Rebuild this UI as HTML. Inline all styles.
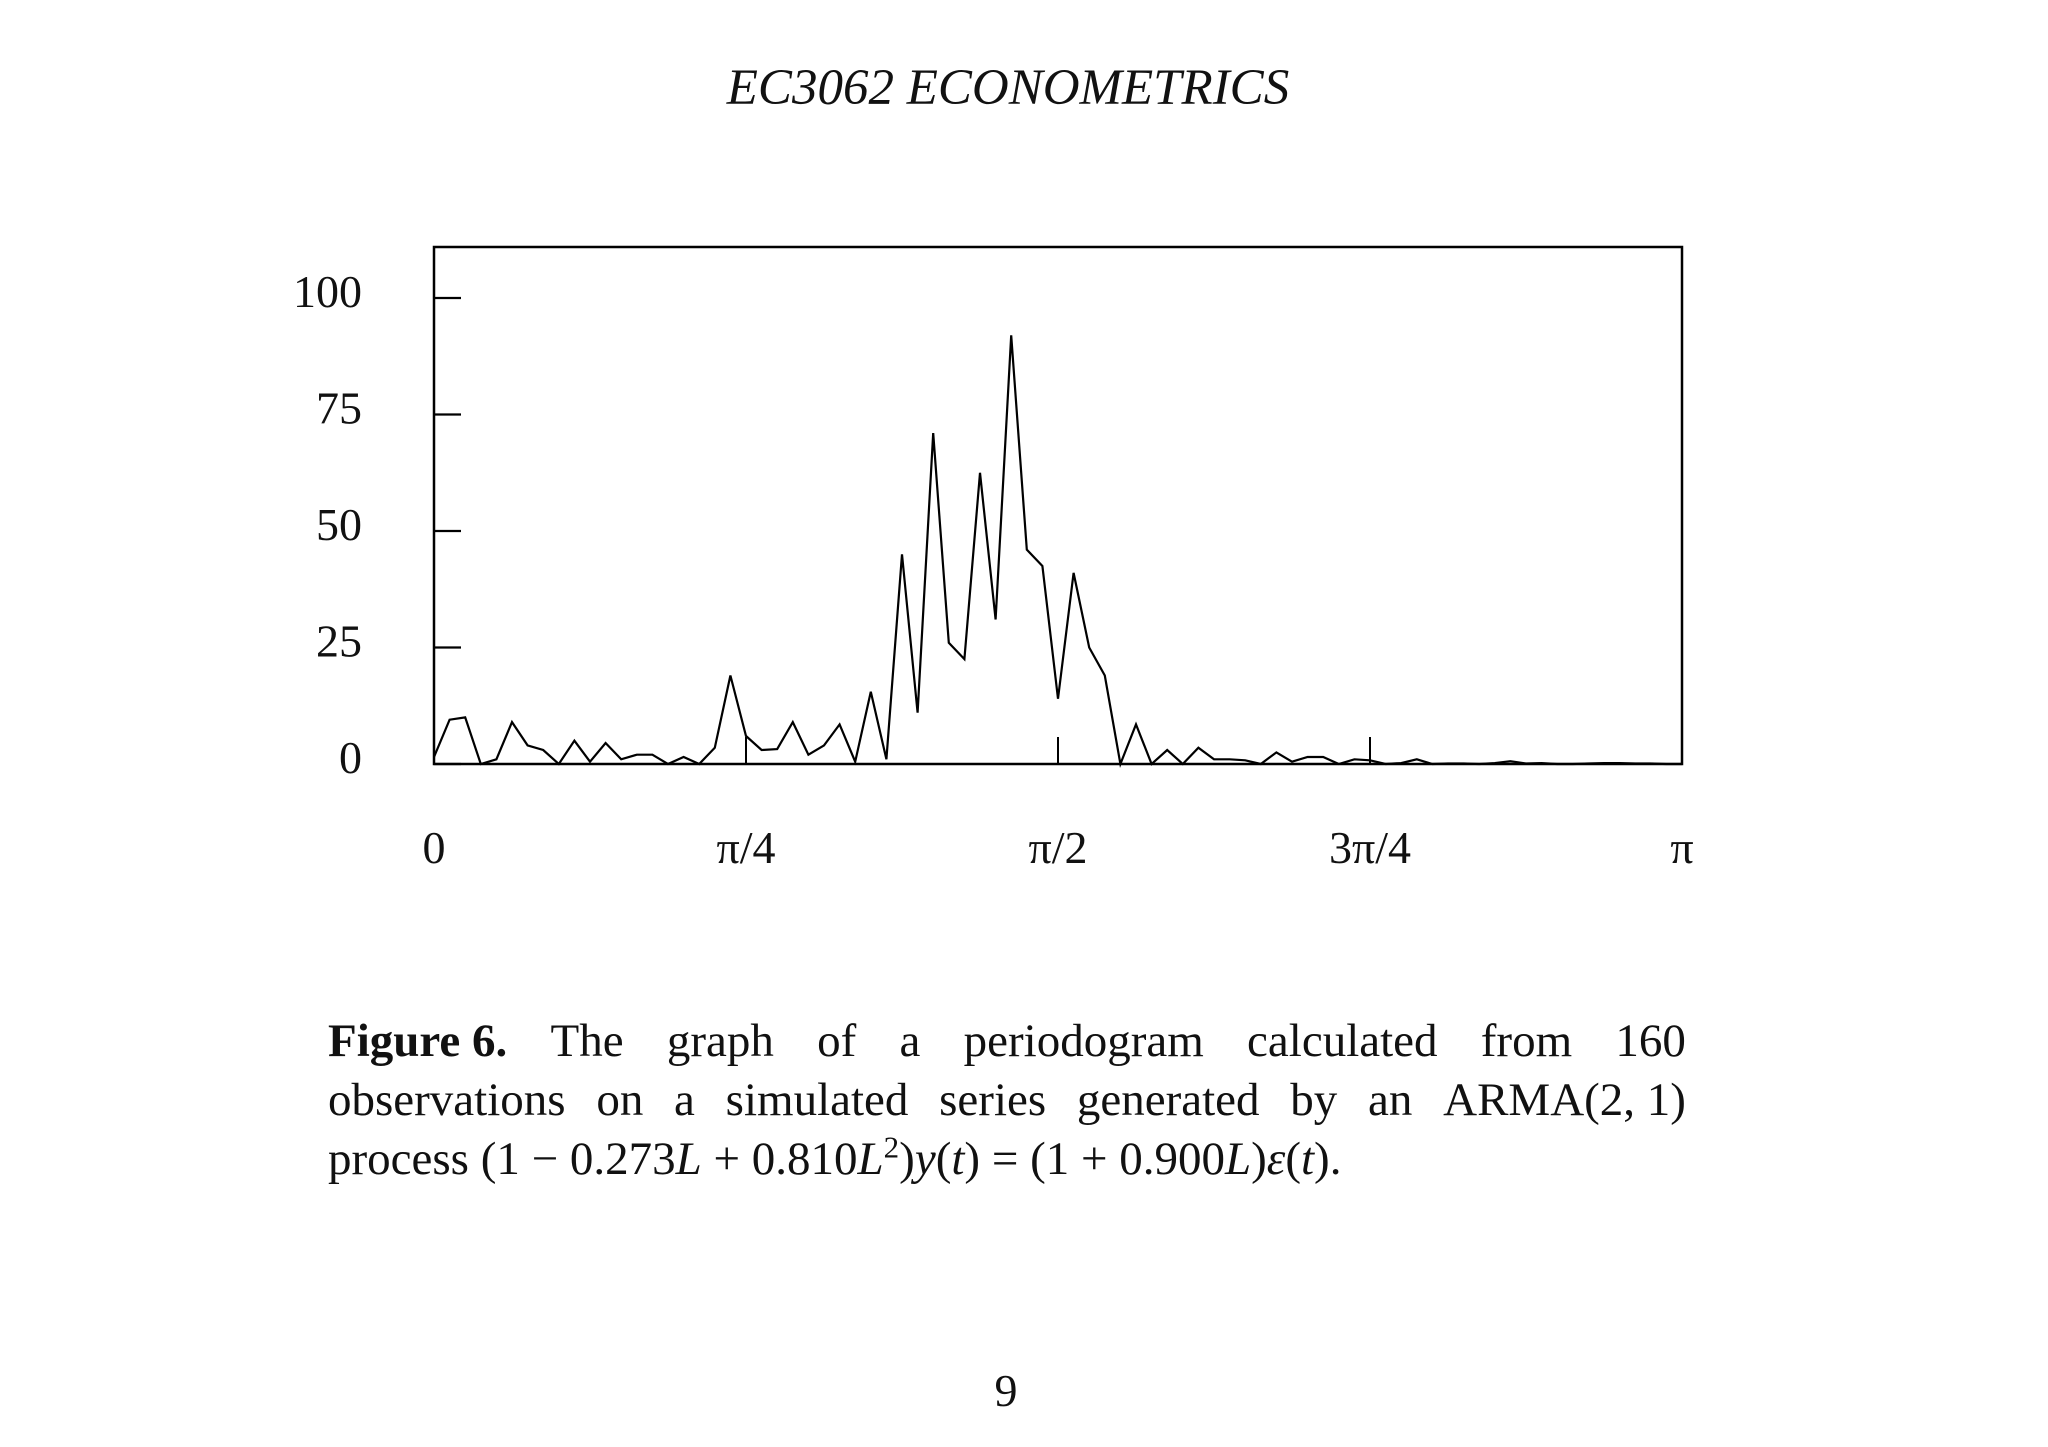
<!DOCTYPE html>
<html><head><meta charset="utf-8"><style>
html,body{margin:0;padding:0;background:#fff;}
svg{display:block;}
.cap{position:absolute;left:328px;top:1012px;width:1358px;font-family:"Liberation Serif",serif;font-size:47px;line-height:59px;color:#111;}
.cap div{text-align:justify;text-align-last:justify;white-space:nowrap;}
.cap div.last{text-align-last:left;}
</style></head><body>
<div style="position:relative;width:2048px;height:1447px;overflow:hidden">
<svg id="chart" width="2048" height="1447">
<text x="1008" y="104" text-anchor="middle" font-family="Liberation Serif,serif" font-style="italic" font-size="51" fill="#111">EC3062 ECONOMETRICS</text>
<rect x="434" y="247" width="1248" height="517" fill="none" stroke="#000" stroke-width="2.5"/>
<g id="axes"></g>
<path id="series" fill="none" stroke="#000" stroke-width="2.2" stroke-linejoin="miter"/>
<text x="1006" y="1406" text-anchor="middle" font-family="Liberation Serif,serif" font-size="46" fill="#111">9</text>
</svg>
<div class="cap">
<div style="display:flex;justify-content:space-between"><b>Figure 6.</b><span>The</span><span>graph</span><span>of</span><span>a</span><span>periodogram</span><span>calculated</span><span>from</span><span>160</span></div>
<div style="display:flex;justify-content:space-between"><span>observations</span><span>on</span><span>a</span><span>simulated</span><span>series</span><span>generated</span><span>by</span><span>an</span><span>ARMA(2, 1)</span></div>
<div class="last">process (1 − 0.273<i>L</i> + 0.810<i>L</i><sup style="font-size:31px;line-height:0">2</sup>)<i>y</i>(<i>t</i>) = (1 + 0.900<i>L</i>)<i>ε</i>(<i>t</i>).</div>
</div>
</div>
<script>
const values = [1.5,9.5,10,0,1,9,4,3,0,5,0.5,4.5,1,2,2,0,1.5,0,3.5,19,6,3,3.2,9,2,4,8.5,0.5,15.5,1,45,11,71,26,22.5,62.5,31,92,46,42.5,14,41,25,19,0,8.5,0,3,0,3.5,1,1,0.8,0,2.5,0.5,1.5,1.5,0,1,0.8,0,0.2,1,0,0.1,0.1,0,0.2,0.6,0.1,0.2,0,0,0.1,0.2,0.2,0.1,0.1,0,0];
const yTicks = [0,25,50,75,100];
const xTicks = [0,0.25,0.5,0.75,1];
const xTickLabels = ["0","π/4","π/2","3π/4","π"];
const X0=434,X1=1682,Y0=764,Y100=298;
function sx(f){return X0+(X1-X0)*f;}
function sy(v){return Y0-(Y0-Y100)*v/100;}
const ns="http://www.w3.org/2000/svg";
const g=document.getElementById('axes');
function mk(tag,attrs){const e=document.createElementNS(ns,tag);for(const k in attrs)e.setAttribute(k,attrs[k]);g.appendChild(e);return e;}
yTicks.forEach(v=>{
 const t=mk('line',{x1:X0,x2:X0+27,y1:sy(v),y2:sy(v),stroke:'#000','stroke-width':2.2});
 
 
 const l=mk('text',{x:362,y:sy(v)+9,'text-anchor':'end','font-family':'Liberation Serif,serif','font-size':46,fill:'#111'});
 l.textContent=v;
 
 
});
xTicks.forEach((f,i)=>{
 if(i>0&&i<xTicks.length-1){
  const t=mk('line',{x1:sx(f),x2:sx(f),y1:Y0,y2:Y0-27,stroke:'#000','stroke-width':2});
  
  
 }
 const l=mk('text',{x:sx(f),y:863,'text-anchor':'middle','font-family':'Liberation Serif,serif','font-size':46,fill:'#111'});
 l.textContent=xTickLabels[i];
 
 
});
const n=values.length-1;
document.getElementById('series').setAttribute('d',values.map((v,i)=>(i?'L':'M')+sx(i/n).toFixed(1)+' '+sy(v).toFixed(1)).join(' '));
</script>
</body></html>
